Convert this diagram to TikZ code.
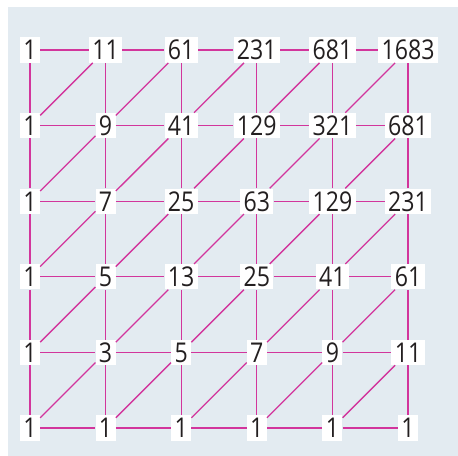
\documentclass[tikz,border=0pt]{standalone}
\usepackage{fontspec}
\setmainfont[FakeStretch=0.85]{Open Sans}
\usetikzlibrary{positioning}
\definecolor{panel}{HTML}{E3EBF1}
\definecolor{linkcolor}{HTML}{D2359C}
\definecolor{ink}{HTML}{231F20}
\tikzset{
  num/.style={fill=white, inner xsep=2.5pt, inner ysep=2pt, text height=15pt,
    text depth=0pt, text=ink, font=\fontsize{20.5}{21}\selectfont},
  link/.style={linkcolor, line width=1pt},
}

\begin{document}
\begin{tikzpicture}
  \useasboundingbox (-0.794,-0.741) rectangle (11.323,11.323);
  % Background panel
  \fill[panel] (-0.582,-0.741) rectangle (11.323,11.138);

  % Numbers, row by row from the bottom
  \foreach \vals [count=\j from 0] in {{1,1,1,1,1,1},{1,3,5,7,9,11},
      {1,5,13,25,41,61},{1,7,25,63,129,231},{1,9,41,129,321,681},
      {1,11,61,231,681,1683}}
    \foreach \v [count=\i from 0] in \vals
      \node[num] (d-\i-\j) at (2*\i,2*\j) {\v};

  % Horizontal, vertical and diagonal links
  \foreach \i in {0,...,5}
    \foreach \j in {0,...,5} {
      \pgfmathtruncatemacro\ni{\i+1}
      \pgfmathtruncatemacro\nj{\j+1}
      \ifnum\i<5 \draw[link] (d-\i-\j) -- (d-\ni-\j); \fi
      \ifnum\j<5 \draw[link] (d-\i-\j) -- (d-\i-\nj); \fi
      \ifnum\i<5 \ifnum\j<5 \draw[link] (d-\i-\j) -- (d-\ni-\nj); \fi\fi
    }
\end{tikzpicture}
\end{document}
